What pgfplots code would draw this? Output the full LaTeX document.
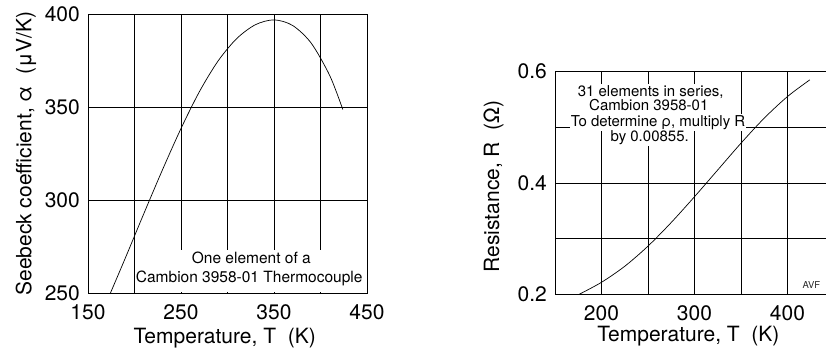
\documentclass[border=0pt]{standalone}
\usepackage{fontspec}
\setmainfont{TeX Gyre Heros}
\usepackage{pgfplots}
\pgfplotsset{compat=1.18}
\begin{document}
\begin{tikzpicture}
\path[use as bounding box] (0pt,0pt) rectangle (826pt,349pt);
\pgfplotsset{
 myax/.style={
  scale only axis, anchor=south west,
  axis line style={black, line width=0.9pt},
  grid=both,
  major grid style={black, line width=0.8pt},
  minor grid style={black, line width=0.8pt},
  major tick length=0pt, minor tick length=0pt,
  tick label style={font=\fontsize{21}{25}\selectfont},
  label style={font=\fontsize{21}{25}\selectfont},
  /pgf/number format/assume math mode=true,
  xticklabel style={anchor=base, yshift=-26pt, inner sep=0pt},
  yticklabel style={anchor=east, xshift=-8pt, inner sep=0pt},
  xmin=150, xmax=450,
 }
}
\begin{axis}[myax, at={(88pt,55.7pt)}, width=279pt, height=279pt,
  ymin=250, ymax=400,
  xtick={150,250,350,450}, minor xtick={200,300,400},
  ytick={250,300,350,400},
  xlabel={Temperature, T~~(K)},
  ylabel={Seebeck coefficient, α~~(μV/K)},
  xlabel style={at={(axis description cs:0.49,-0.179)}, anchor=base},
  ylabel style={at={(axis description cs:-0.222,0.5)}, anchor=center},
]
\addplot[black, line width=0.7pt, smooth] coordinates {
 (174,250) (190,268.8) (210,292.8) (230,316.3) (250,338.6) (270,358.6)
 (290,375.0) (310,387.0) (330,394.4) (350,397.0) (370,394.0) (390,384.5)
 (410,367.0) (424,348.8)
};
\end{axis}
\begin{axis}[myax, at={(555pt,54.7pt)}, width=279pt, height=222.6pt,
  ymin=0.2, ymax=0.6,
  xtick={200,300,400}, minor xtick={250,350},
  ytick={0.2,0.4,0.6}, yticklabels={0.2,0.4,0.6}, minor ytick={0.3,0.5},
  xlabel={Temperature, T~~(K)},
  ylabel={Resistance, R~~(Ω)},
  xlabel style={at={(axis description cs:0.478,-0.213)}, anchor=base},
  ylabel style={at={(axis description cs:-0.2204,0.485)}, anchor=center},
]
\addplot[black, line width=0.7pt, smooth] coordinates {
 (176,0.2000) (200,0.2216) (225,0.2504) (250,0.2866) (275,0.3291)
 (300,0.3754) (325,0.4235) (350,0.4716) (375,0.5166) (400,0.5554) (424,0.5854)
};
\end{axis}
\fill[white] (137pt,56.6pt) rectangle (363pt,99pt);
\node[anchor=base, inner sep=0pt, font=\fontsize{15.5}{18}\selectfont] at (251.3pt,85.3pt) {One element of a};
\node[anchor=base, inner sep=0pt, font=\fontsize{15.5}{18}\selectfont] at (249.2pt,66.3pt) {Cambion 3958-01 Thermocouple};
\tikzset{annot/.style={anchor=base, fill=white, inner sep=1pt, text height=11.5pt, text depth=3.5pt, font=\fontsize{15}{18}\selectfont}}
\node[annot] at (650.7pt,253pt) {31 elements in series,};
\node[annot] at (648.8pt,238.3pt) {Cambion 3958-01};
\node[annot] at (658pt,222.3pt) {To determine ρ, multiply R};
\node[annot] at (649.7pt,207.3pt) {by 0.00855.};
\node[anchor=base west, inner sep=0pt, font=\fontsize{9.5}{11}\selectfont, text=black!85] at (802.3pt,61pt) {AVF};
\end{tikzpicture}
\end{document}
